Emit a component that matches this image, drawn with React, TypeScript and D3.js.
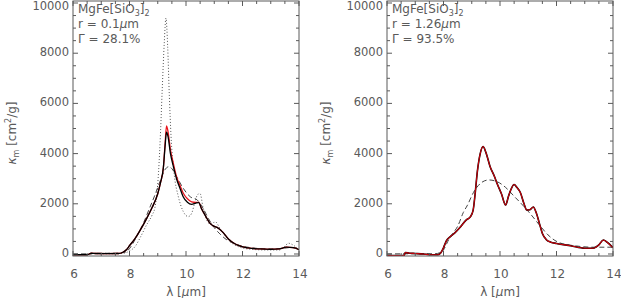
import React from "react";
import * as d3 from "d3";

const WIDTH = 621;
const HEIGHT = 298;

// [lambda (micron), kappa (cm^2/g)]
const leftDotted: [number, number][] = [
  [6.0, -20], [6.6, -20], [6.7, 20], [7.0, 10], [7.5, 10], [7.8, 30], [8.0, 120],
  [8.2, 300], [8.4, 700], [8.6, 1150], [8.8, 1550], [8.9, 1850], [8.96, 2300],
  [9.03, 3300], [9.1, 4900], [9.16, 6600], [9.23, 8400], [9.29, 9400], [9.35, 8300],
  [9.41, 6300], [9.47, 4700], [9.58, 3200], [9.73, 2280], [9.9, 1700], [10.08, 1490],
  [10.2, 1620], [10.3, 2000], [10.42, 2380], [10.5, 2400], [10.6, 1880], [10.8, 1230],
  [10.92, 1200], [11.03, 1290], [11.2, 1030], [11.4, 700], [11.6, 450], [11.8, 320],
  [12.0, 240], [12.4, 180], [12.8, 160], [13.3, 160], [13.5, 300], [13.62, 430],
  [13.8, 350], [14.0, 160],
];

const leftDashed: [number, number][] = [
  [6.0, 0], [6.6, 10], [7.0, 30], [7.5, 30], [7.8, 60], [7.9, 100], [8.1, 380],
  [8.3, 800], [8.5, 1250], [8.7, 1800], [8.9, 2350], [9.1, 2950], [9.25, 3350],
  [9.4, 3480], [9.5, 3400], [9.67, 3080], [9.9, 2620], [10.15, 2280], [10.4, 2150],
  [10.6, 1830], [10.8, 1400], [11.0, 1050], [11.2, 800], [11.45, 560], [11.7, 430],
  [11.9, 340], [12.3, 250], [12.8, 210], [13.3, 210], [13.7, 260], [14.0, 200],
];

const leftBlack: [number, number][] = [
  [6.0, -30], [6.5, -30], [6.65, 30], [6.8, 20], [7.2, 15], [7.6, 20], [7.75, 60],
  [7.9, 180], [8.0, 330], [8.2, 620], [8.4, 990], [8.6, 1400], [8.8, 1850],
  [9.0, 2400], [9.1, 2850], [9.2, 3450], [9.26, 4300], [9.31, 4850], [9.36, 4700],
  [9.45, 4000], [9.55, 3500], [9.67, 2980], [9.8, 2580], [9.9, 2280], [10.05, 2060],
  [10.2, 1980], [10.35, 2030], [10.45, 2050], [10.55, 1800], [10.7, 1500],
  [10.85, 1220], [10.95, 1130], [11.1, 1060], [11.3, 870], [11.5, 600], [11.7, 430],
  [11.9, 320], [12.2, 240], [12.6, 200], [13.0, 185], [13.3, 200], [13.55, 270],
  [13.8, 250], [14.0, 170],
];

const leftRed: [number, number][] = [
  [6.0, -30], [6.5, -30], [6.65, 30], [6.8, 20], [7.2, 15], [7.6, 20], [7.75, 60],
  [7.9, 180], [8.0, 330], [8.2, 620], [8.4, 990], [8.6, 1400], [8.8, 1850],
  [9.0, 2400], [9.1, 2850], [9.2, 3450], [9.26, 4400], [9.31, 5100], [9.36, 4900],
  [9.45, 4150], [9.55, 3620], [9.67, 3060], [9.8, 2700], [9.9, 2430], [10.05, 2200],
  [10.2, 2080], [10.35, 2060], [10.45, 2060], [10.55, 1800], [10.7, 1500],
  [10.85, 1220], [10.95, 1130], [11.1, 1060], [11.3, 870], [11.5, 600], [11.7, 430],
  [11.9, 320], [12.2, 240], [12.6, 200], [13.0, 185], [13.3, 200], [13.55, 270],
  [13.8, 250], [14.0, 170],
];

const rightSolid: [number, number][] = [
  [6.0, -60], [6.6, -60], [6.65, 60], [6.8, 30], [7.0, 20], [7.3, 0], [7.5, -30],
  [7.8, -30], [7.9, 40], [8.0, 250], [8.1, 520], [8.25, 700], [8.4, 840],
  [8.6, 1080], [8.8, 1350], [8.95, 1480], [9.05, 1750], [9.12, 2400], [9.2, 3300],
  [9.3, 4000], [9.4, 4280], [9.5, 4050], [9.65, 3480], [9.8, 3100], [9.9, 2800],
  [10.05, 2400], [10.2, 1950], [10.3, 2300], [10.38, 2550], [10.5, 2770],
  [10.6, 2650], [10.72, 2450], [10.85, 2000], [10.95, 1750], [11.05, 1760],
  [11.18, 1870], [11.28, 1650], [11.4, 1200], [11.5, 820], [11.65, 560],
  [11.8, 470], [12.0, 420], [12.5, 330], [13.0, 230], [13.3, 230], [13.5, 360],
  [13.66, 560], [13.8, 460], [14.0, 250],
];

const rightDashed: [number, number][] = [
  [6.0, 0], [7.0, 10], [7.7, 10], [7.95, 100], [8.2, 600], [8.35, 850], [8.5, 1100],
  [8.7, 1650], [8.85, 1950], [9.06, 2450], [9.35, 2850], [9.6, 2950], [9.9, 2880],
  [10.2, 2650], [10.5, 2300], [10.8, 1950], [11.06, 1620], [11.4, 1150],
  [11.7, 760], [12.1, 450], [12.7, 320], [13.3, 270], [14.0, 270],
];

const xTicks = [6, 8, 10, 12, 14];
const yTicks = [0, 2000, 4000, 6000, 8000, 10000];

const panels = [
  { left: 73, r: "0.1", gamma: "28.1" },
  { left: 387, r: "1.26", gamma: "93.5" },
];

const PW = 226;
const TOP = 1;
const BOTTOM = 256;
const AX = "#5a5a5a";
const FONT = "DejaVu Sans";

const yScale = d3.scaleLinear().domain([-80, 10080]).range([BOTTOM, TOP]);

function Panel({ idx }: { idx: number }) {
  const p = panels[idx];
  const x = d3.scaleLinear().domain([6, 14]).range([p.left, p.left + PW]);
  const line = d3
    .line<[number, number]>()
    .x((d) => x(d[0]))
    .y((d) => yScale(d[1]))
    .curve(d3.curveMonotoneX);

  const xMinor = d3.range(6, 14.01, 0.5);
  const yMinor = d3.range(0, 10001, 500);
  const x0 = p.left;
  const x1 = p.left + PW;

  return (
    <g>
      <defs>
        <clipPath id={`clip${idx}`}>
          <rect x={x0} y={TOP} width={PW} height={BOTTOM - TOP} />
        </clipPath>
      </defs>
      <g clipPath={`url(#clip${idx})`} fill="none">
        {idx === 0 ? (
          <>
            <path d={line(leftDotted) || ""} stroke="#555" strokeWidth={1} strokeDasharray="1,2" />
            <path d={line(leftDashed) || ""} stroke="#444" strokeWidth={1} strokeDasharray="5,3" />
            <path d={line(leftRed) || ""} stroke="#e8141c" strokeWidth={1.3} />
            <path d={line(leftBlack) || ""} stroke="#000" strokeWidth={1.3} />
          </>
        ) : (
          <>
            <path d={line(rightDashed) || ""} stroke="#444" strokeWidth={1} strokeDasharray="5,3" />
            <path d={line(rightSolid) || ""} stroke="#000" strokeWidth={1.6} />
            <path d={line(rightSolid) || ""} stroke="#c8000a" strokeWidth={1.1} />
          </>
        )}
      </g>

      {/* frame */}
      <rect x={x0} y={TOP} width={PW} height={BOTTOM - TOP} fill="none" stroke={AX} strokeWidth={1} />

      {xMinor.map((t) => {
        const major = Math.abs(t - Math.round(t / 2) * 2) < 1e-6;
        const len = major ? 5 : 3;
        return (
          <g key={`x${t}`} stroke={AX}>
            <line x1={x(t)} x2={x(t)} y1={BOTTOM} y2={BOTTOM - len} />
            <line x1={x(t)} x2={x(t)} y1={TOP} y2={TOP + len} />
          </g>
        );
      })}
      {yMinor.map((t) => {
        const major = t % 2000 === 0;
        const len = major ? 5 : 3;
        return (
          <g key={`y${t}`} stroke={AX}>
            <line x1={x0} x2={x0 + len} y1={yScale(t)} y2={yScale(t)} />
            <line x1={x1} x2={x1 - len} y1={yScale(t)} y2={yScale(t)} />
          </g>
        );
      })}

      <g fontFamily={FONT} fontSize={12} fill={AX}>
        {xTicks.map((t) => (
          <text key={`xl${t}`} x={x(t) + 1} y={278} textAnchor="middle">
            {t}
          </text>
        ))}
        {yTicks.map((t) => (
          <text
            key={`yl${t}`}
            x={x0 - 4}
            y={Math.max(yScale(t) + 3, 10)}
            textAnchor="end"
            fontSize={11.5}
          >
            {t}
          </text>
        ))}
        <text x={(x0 + x1) / 2} y={296} textAnchor="middle">
          λ [<tspan fontStyle="italic">μ</tspan>m]
        </text>
        <text
          transform={`translate(${x0 - 57},${133}) rotate(-90)`}
          textAnchor="middle"
        >
          <tspan fontStyle="italic">κ</tspan>
          <tspan fontSize={8} dy={3}>m</tspan>
          <tspan dy={-3}> [cm</tspan>
          <tspan fontSize={8} dy={-5}>2</tspan>
          <tspan dy={5}>/g]</tspan>
        </text>

        <text x={x0 + 5} y={13}>
          MgFe[SiO<tspan fontSize={8} dy={3}>3</tspan>
          <tspan dy={-3}>]</tspan>
          <tspan fontSize={8} dy={3}>2</tspan>
        </text>
        <text x={x0 + 5} y={28}>
          r = {p.r}<tspan fontStyle="italic">μ</tspan>m
        </text>
        <text x={x0 + 5} y={43}>
          Γ = {p.gamma}%
        </text>
      </g>
    </g>
  );
}

export default function App() {
  return (
    <svg
      width={WIDTH}
      height={HEIGHT}
      style={{ position: "absolute", left: 0, top: 0, background: "#fff" }}
    >
      <Panel idx={0} />
      <Panel idx={1} />
    </svg>
  );
}
